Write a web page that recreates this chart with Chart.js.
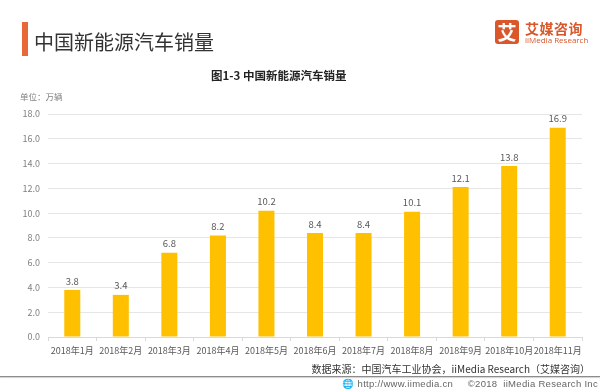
<!DOCTYPE html>
<html><head><meta charset="utf-8">
<script src="https://cdn.jsdelivr.net/npm/chart.js@4/dist/chart.umd.min.js"></script>
<style>
html,body{margin:0;padding:0;background:#fff;}
#wrap{position:relative;width:600px;height:390px;overflow:hidden;font-family:"Noto Sans CJK SC","Noto Sans",sans-serif;}
#c{position:absolute;left:0;top:0;}
.t{position:absolute;white-space:nowrap;}
</style></head>
<body><div id="wrap">
<canvas id="c" width="600" height="390"></canvas>
<div class="t" style="left:22px;top:22px;width:6px;height:34px;background:#e8683a;"></div>
<div class="t" style="left:34px;top:28px;font-size:20px;line-height:28px;color:#333;">中国新能源汽车销量</div>
<div class="t" style="left:495px;top:20px;width:24px;height:24px;background:#d9572b;border-radius:3px;color:#fff;font-size:19px;line-height:24px;text-align:center;font-weight:bold;">艾</div>
<div class="t" style="left:525px;top:19px;font-size:14px;line-height:18px;color:#d9572b;font-weight:bold;letter-spacing:0.5px;">艾媒咨询</div>
<div class="t" style="left:525px;top:35px;font-size:8px;line-height:10px;color:#d9572b;font-family:'Open Sans',sans-serif;">iiMedia Research</div>
<div class="t" style="left:211px;top:67px;font-size:11.5px;line-height:16px;color:#222;font-weight:bold;">图1-3 中国新能源汽车销量</div>
<div class="t" style="left:20px;top:90px;font-size:8.5px;line-height:12px;color:#7f7f7f;">单位：万辆</div>
<div class="t" style="left:0;top:376px;width:600px;height:1px;background:#8c8c8c;box-shadow:0 1px 1px #ccc;"></div>
<div class="t" style="right:10px;top:362px;font-size:10px;line-height:14px;color:#333;">数据来源：中国汽车工业协会，iiMedia Research（艾媒咨询）</div>
<div class="t" style="right:2px;top:378px;font-size:9.5px;line-height:11px;color:#666;font-family:'Liberation Sans',sans-serif;letter-spacing:0.3px;">&#x1F310; http://www.iimedia.cn &nbsp;&nbsp;&nbsp;&nbsp;©2018 &nbsp;iiMedia Research Inc</div>
</div>
<script>
const categories = ["2018年1月","2018年2月","2018年3月","2018年4月","2018年5月","2018年6月","2018年7月","2018年8月","2018年9月","2018年10月","2018年11月"];
const sales = [3.8, 3.4, 6.8, 8.2, 10.2, 8.4, 8.4, 10.1, 12.1, 13.8, 16.9];
const yTicks = [0, 2, 4, 6, 8, 10, 12, 14, 16, 18];

const labelPlugin = {
  id: 'valLabels',
  afterDatasetsDraw(chart) {
    const ctx = chart.ctx;
    const meta = chart.getDatasetMeta(0);
    ctx.save();
    ctx.font = '9.5px "Noto Sans CJK SC", sans-serif';
    ctx.fillStyle = '#595959';
    ctx.textAlign = 'center';
    ctx.textBaseline = 'middle';
    meta.data.forEach((bar, i) => {
      ctx.fillText(sales[i].toFixed(1), bar.x, bar.y - 9);
    });
    ctx.restore();
  }
};

new Chart(document.getElementById('c'), {
  type: 'bar',
  data: { labels: categories, datasets: [{ data: sales, backgroundColor: '#FFC000', barPercentage: 0.33, categoryPercentage: 1 }] },
  options: {
    responsive: false, animation: false,
    layout: { padding: { top: 114, right: 18, left: 0, bottom: 0 } },
    plugins: { legend: { display: false }, tooltip: { enabled: false }, title: { display: false } },
    scales: {
      x: {
        grid: { display: true, drawOnChartArea: false, drawTicks: true, tickLength: 4, color: '#d9d9d9' },
        border: { color: '#d9d9d9' },
        ticks: { color: '#595959', font: { size: 9, family: '"Noto Sans CJK SC", sans-serif' }, padding: 4, maxRotation: 0, autoSkip: false },
        afterFit(s) { s.height = 53; }
      },
      y: {
        min: 0, max: 18,
        afterBuildTicks(s) { s.ticks = yTicks.map(v => ({ value: v })); },
        grid: { color: '#e6e6e6', drawTicks: false },
        border: { display: false },
        ticks: { color: '#808080', font: { size: 9, family: '"Noto Sans CJK SC", sans-serif' }, padding: 8, callback: v => v.toFixed(1) },
        afterFit(s) { s.width = 48; }
      }
    }
  },
  plugins: [labelPlugin]
});
</script>
</body></html>
